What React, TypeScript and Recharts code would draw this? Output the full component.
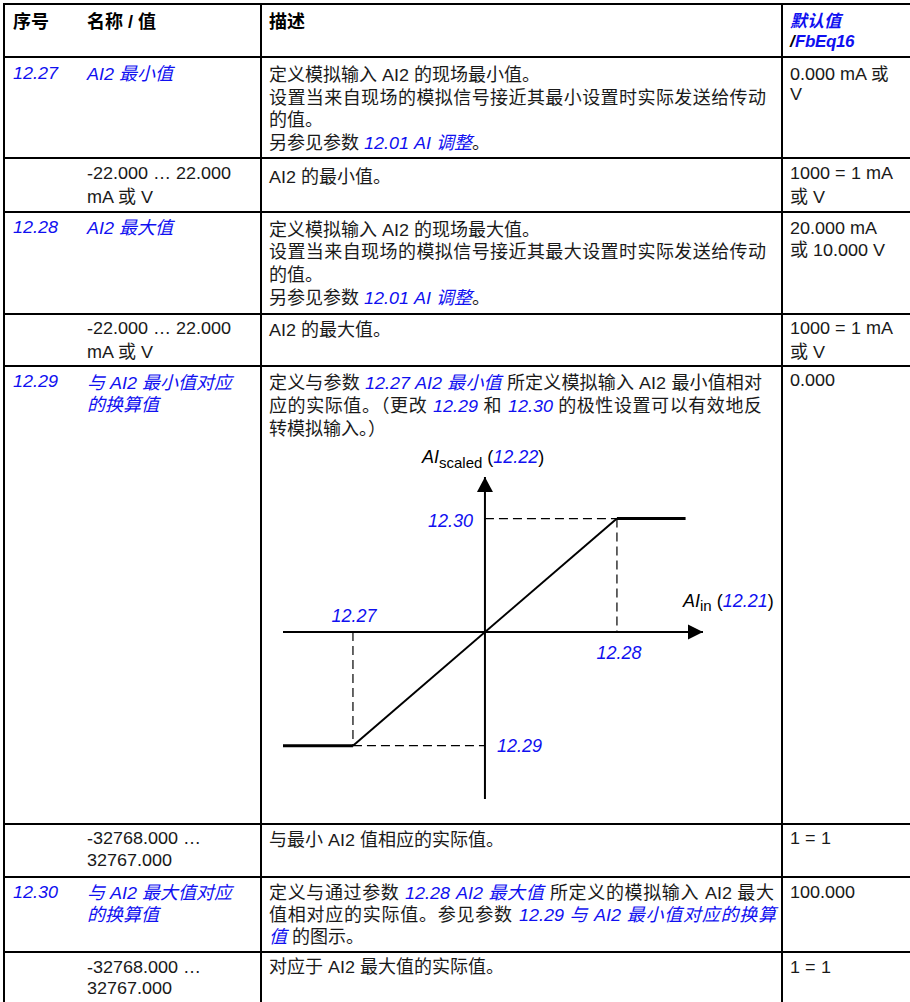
import React from 'react';
import { LineChart, Line, XAxis, YAxis, ReferenceLine, ReferenceDot } from 'recharts';

// ---- chart data ----
const inputValues = [-1.53, -1, 1, 1.52];
const scaledValues = [-1, -1, 1, 1];
const xDomain = [-1.53, 1.652];
const yDomain = [-1.47, 1.366];
const markerLabels = ['12.27', '12.28', '12.29', '12.30'];
const yAxisLabel = ['AI', 'scaled', '12.22'];
const xAxisLabel = ['AI', 'in', '12.21'];

const BLUE = '#1010f0';
const FONT = "'LSx', 'Liberation Sans', Arial, 'Noto Sans CJK SC', sans-serif";
const SVG_FONT = "'Liberation Sans', Arial, sans-serif";

const fontCss = `
@font-face { font-family: 'LSx'; src: local('Liberation Sans'), local('LiberationSans'); font-weight: 400; font-style: normal; size-adjust: 102%; }
@font-face { font-family: 'LSx'; src: local('Liberation Sans Bold'), local('LiberationSans-Bold'); font-weight: 700; font-style: normal; size-adjust: 102%; }
@font-face { font-family: 'LSx'; src: local('Liberation Sans Italic'), local('LiberationSans-Italic'); font-weight: 400; font-style: italic; size-adjust: 102%; }
@font-face { font-family: 'LSx'; src: local('Liberation Sans Bold Italic'), local('LiberationSans-BoldItalic'); font-weight: 700; font-style: italic; size-adjust: 102%; }
`;

const points = inputValues.map((x, i) => ({ x, y: scaledValues[i] }));
const lowFlat = points.slice(0, 2);
const slope = points.slice(1, 3);
const highFlat = points.slice(2, 4);

// ---- table text (layout) ----
type Cell = { x: number; y: number; t: string; w?: number; bold?: boolean; h?: number; fs?: number };
const cells: Cell[] = [
  { x: 13, y: 22, t: '序号', bold: true },
  { x: 87, y: 22, t: '名称 / 值', bold: true },
  { x: 269, y: 22, t: '描述', bold: true },
  { x: 790, y: 21, t: '{默认值}', bold: true, h: 20, fs: 17 },
  { x: 790, y: 41, t: '/{FbEq16}', bold: true, h: 20, fs: 17 },

  { x: 13, y: 73, t: '{12.27}' },
  { x: 87, y: 74, t: '{AI2 最小值}' },
  { x: 269, y: 75, t: '定义模拟输入 AI2 的现场最小值。' },
  { x: 269, y: 98, t: '设置当来自现场的模拟信号接近其最小设置时实际发送给传动', w: 497 },
  { x: 269, y: 120, t: '的值。' },
  { x: 269, y: 143, t: '另参见参数 {12.01 AI 调整}。' },
  { x: 790, y: 74, t: '0.000 mA 或', h: 20, fs: 17.5 },
  { x: 790, y: 94, t: 'V', h: 20, fs: 17.5 },

  { x: 87, y: 173, t: '-22.000 … 22.000' },
  { x: 87, y: 197, t: 'mA 或 V' },
  { x: 269, y: 177, t: 'AI2 的最小值。' },
  { x: 790, y: 173, t: '1000 = 1 mA' },
  { x: 790, y: 197, t: '或 V' },

  { x: 13, y: 227, t: '{12.28}' },
  { x: 87, y: 228, t: '{AI2 最大值}' },
  { x: 269, y: 230, t: '定义模拟输入 AI2 的现场最大值。' },
  { x: 269, y: 252, t: '设置当来自现场的模拟信号接近其最大设置时实际发送给传动', w: 497 },
  { x: 269, y: 275, t: '的值。' },
  { x: 269, y: 298, t: '另参见参数 {12.01 AI 调整}。' },
  { x: 790, y: 228, t: '20.000 mA' },
  { x: 790, y: 250, t: '或 10.000 V' },

  { x: 87, y: 328, t: '-22.000 … 22.000' },
  { x: 87, y: 352, t: 'mA 或 V' },
  { x: 269, y: 330, t: 'AI2 的最大值。' },
  { x: 790, y: 328, t: '1000 = 1 mA' },
  { x: 790, y: 352, t: '或 V' },

  { x: 13, y: 381, t: '{12.29}' },
  { x: 87, y: 383, t: '{与 AI2 最小值对应}' },
  { x: 87, y: 405, t: '{的换算值}' },
  { x: 269, y: 383, t: '定义与参数 {12.27 AI2 最小值} 所定义模拟输入 AI2 最小值相对', w: 493 },
  { x: 269, y: 406, t: '应的实际值。（更改 {12.29} 和 {12.30} 的极性设置可以有效地反', w: 493 },
  { x: 269, y: 429, t: '转模拟输入。）' },
  { x: 790, y: 380, t: '0.000' },

  { x: 87, y: 838, t: '-32768.000 …' },
  { x: 87, y: 860, t: '32767.000' },
  { x: 269, y: 840, t: '与最小 AI2 值相应的实际值。' },
  { x: 790, y: 838, t: '1 = 1' },

  { x: 13, y: 892, t: '{12.30}' },
  { x: 87, y: 893, t: '{与 AI2 最大值对应}' },
  { x: 87, y: 915, t: '{的换算值}' },
  { x: 269, y: 893, t: '定义与通过参数 {12.28 AI2 最大值} 所定义的模拟输入 AI2 最大', w: 505 },
  { x: 269, y: 915, t: '值相对应的实际值。参见参数 {12.29 与 AI2 最小值对应的换算}', w: 507 },
  { x: 269, y: 937, t: '{值} 的图示。' },
  { x: 790, y: 892, t: '100.000' },

  { x: 87, y: 967, t: '-32768.000 …' },
  { x: 87, y: 988, t: '32767.000' },
  { x: 269, y: 967, t: '对应于 AI2 最大值的实际值。' },
  { x: 790, y: 967, t: '1 = 1' },
];

const hLines = [3, 56, 157, 211, 313, 365, 823, 876, 951];
const vLines = [3, 260, 781];

function runs(text: string) {
  return text
    .split(/(\{[^}]*\})/)
    .filter(Boolean)
    .map((p, i) =>
      p.startsWith('{') ? (
        <span key={i} style={{ color: BLUE, fontStyle: 'italic' }}>
          {p.slice(1, -1)}
        </span>
      ) : (
        <span key={i}>{p}</span>
      )
    );
}

function CellText({ c }: { c: Cell }) {
  const h = c.h ?? 22;
  const style: React.CSSProperties = {
    position: 'absolute',
    left: c.x,
    top: c.y - h / 2,
    height: h,
    lineHeight: h + 'px',
    fontSize: c.fs ?? 18,
    fontWeight: c.bold ? 700 : 400,
    color: c.bold ? '#000' : '#1a1a1a',
    whiteSpace: 'nowrap',
  };
  if (c.w) {
    style.width = c.w;
    style.textAlign = 'justify';
    (style as any).textAlignLast = 'justify';
  }
  if (c.bold && c.t.startsWith('/')) style.fontStyle = 'italic';
  return <div style={style}>{runs(c.t)}</div>;
}

const labelStyle = { fontFamily: SVG_FONT, fontSize: 18, fontStyle: 'italic' as const, fill: BLUE };

function Diagram() {
  return (
    <div style={{ position: 'absolute', left: 263, top: 440 }}>
      <LineChart
        width={518}
        height={380}
        data={points}
        margin={{ top: 37, right: 78, bottom: 21, left: 20 }}
      >
        <XAxis type="number" dataKey="x" domain={xDomain} hide allowDataOverflow />
        <YAxis type="number" dataKey="y" domain={yDomain} hide allowDataOverflow />
        <ReferenceLine x={0} stroke="#000" strokeWidth={2} />
        <ReferenceLine y={0} stroke="#000" strokeWidth={2} />
        <ReferenceLine segment={[{ x: -1, y: 0 }, { x: -1, y: -1 }]} stroke="#000" strokeWidth={1.2} strokeDasharray="9 5" />
        <ReferenceLine segment={[{ x: -1, y: -1 }, { x: 0, y: -1 }]} stroke="#000" strokeWidth={1.2} strokeDasharray="9 5" />
        <ReferenceLine segment={[{ x: 0, y: 1 }, { x: 1, y: 1 }]} stroke="#000" strokeWidth={1.2} strokeDasharray="9 5" />
        <ReferenceLine segment={[{ x: 1, y: 1 }, { x: 1, y: 0 }]} stroke="#000" strokeWidth={1.2} strokeDasharray="9 5" />
        <Line data={lowFlat} dataKey="y" type="linear" dot={false} stroke="#000" strokeWidth={3} isAnimationActive={false} />
        <Line data={slope} dataKey="y" type="linear" dot={false} stroke="#000" strokeWidth={2} isAnimationActive={false} />
        <Line data={highFlat} dataKey="y" type="linear" dot={false} stroke="#000" strokeWidth={3} isAnimationActive={false} />
        {/* arrow heads and axis titles */}
        <ReferenceDot
          x={0}
          y={yDomain[1]}
          r={0}
          shape={(p: any) => (
            <g>
              <path d={`M${p.cx},${p.cy} L${p.cx - 8},${p.cy + 15} L${p.cx + 8},${p.cy + 15} Z`} fill="#000" />
              <text x={p.cx - 63} y={p.cy - 14} style={{ fontFamily: SVG_FONT, fontSize: 18 }} fill="#000">
                <tspan fontStyle="italic">{yAxisLabel[0]}</tspan>
                <tspan fontSize={15} dy={5}>{yAxisLabel[1]}</tspan>
                <tspan dy={-5}> (</tspan>
                <tspan fontStyle="italic" fill={BLUE}>{yAxisLabel[2]}</tspan>
                <tspan>)</tspan>
              </text>
            </g>
          )}
        />
        <ReferenceDot
          x={xDomain[1]}
          y={0}
          r={0}
          shape={(p: any) => (
            <g>
              <path d={`M${p.cx},${p.cy} L${p.cx - 15},${p.cy - 7.5} L${p.cx - 15},${p.cy + 7.5} Z`} fill="#000" />
              <text x={p.cx - 20} y={p.cy - 25} style={{ fontFamily: SVG_FONT, fontSize: 18 }} fill="#000">
                <tspan fontStyle="italic">{xAxisLabel[0]}</tspan>
                <tspan fontSize={15} dy={4}>{xAxisLabel[1]}</tspan>
                <tspan dy={-4}> (</tspan>
                <tspan fontStyle="italic" fill={BLUE}>{xAxisLabel[2]}</tspan>
                <tspan>)</tspan>
              </text>
            </g>
          )}
        />
        {/* marker labels */}
        <ReferenceDot x={-1} y={0} r={0} shape={(p: any) => (
          <text x={p.cx + 1} y={p.cy - 10} textAnchor="middle" style={labelStyle}>{markerLabels[0]}</text>
        )} />
        <ReferenceDot x={1} y={0} r={0} shape={(p: any) => (
          <text x={p.cx + 2} y={p.cy + 27} textAnchor="middle" style={labelStyle}>{markerLabels[1]}</text>
        )} />
        <ReferenceDot x={0} y={-1} r={0} shape={(p: any) => (
          <text x={p.cx + 12} y={p.cy + 6.5} textAnchor="start" style={labelStyle}>{markerLabels[2]}</text>
        )} />
        <ReferenceDot x={0} y={1} r={0} shape={(p: any) => (
          <text x={p.cx - 12} y={p.cy + 8} textAnchor="end" style={labelStyle}>{markerLabels[3]}</text>
        )} />
      </LineChart>
    </div>
  );
}

export default function App() {
  return (
    <div
      style={{
        position: 'absolute',
        left: 0,
        top: 0,
        width: 910,
        height: 1002,
        overflow: 'hidden',
        background: '#fff',
        fontFamily: FONT,
      }}
    >
      <style>{fontCss}</style>
      {hLines.map((y) => (
        <div key={'h' + y} style={{ position: 'absolute', left: 3, top: y, width: 907, height: 2, background: '#000' }} />
      ))}
      {vLines.map((x) => (
        <div key={'v' + x} style={{ position: 'absolute', left: x, top: 3, width: 2, height: 999, background: '#000' }} />
      ))}
      {cells.map((c, i) => (
        <CellText key={i} c={c} />
      ))}
      <Diagram />
    </div>
  );
}
